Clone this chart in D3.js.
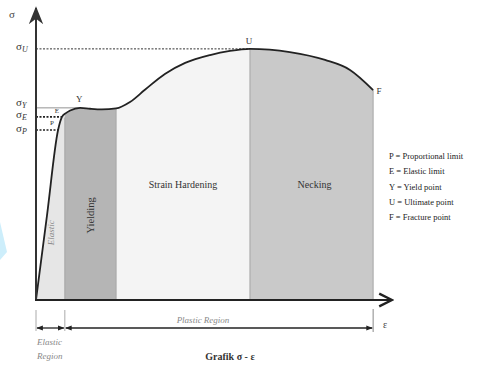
<!DOCTYPE html>
<html><head><meta charset="utf-8">
<script src="https://cdn.jsdelivr.net/npm/d3@7"></script>
<style>html,body{margin:0;padding:0;background:#fff}svg{display:block}</style>
</head><body>
<script>
// ---- data ----
const strain = [0, 0.31, 0.62, 0.73, 0.84, 0.96, 1.24, 1.52, 1.85, 2.25, 2.64, 3.06, 3.62, 4.19, 4.89, 5.45, 6.01, 7.13, 8.12, 8.82, 9.47];
const stress = [0, 29.1, 58.2, 62.7, 64.0, 64.9, 65.8, 65.5, 65.3, 65.6, 67.8, 72.0, 77.4, 81.2, 83.9, 85.3, 86.0, 84.9, 82.2, 78.8, 71.9];
const regionNames = ["Elastic", "Yielding", "Strain Hardening", "Necking"];
const regionBounds = [0, 0.81, 2.25, 6.01, 9.47];
const pointNames = ["P", "E", "Y", "U", "F"];
const pointIndex = [2, 3, 6, 16, 20];
const legendLines = ["P = Proportional limit", "E = Elastic limit", "Y = Yield point", "U = Ultimate point", "F = Fracture point"];

const W = 480, H = 365;
const svg = d3.select("body").append("svg").attr("width", W).attr("height", H);
const x = d3.scaleLinear().domain([0, 10]).range([36, 392]);
const y = d3.scaleLinear().domain([0, 100]).range([300, 8]);
const serif = "'Liberation Serif','DejaVu Serif',serif";

const pts = strain.map((s, i) => [s, stress[i]]);
const area = d3.area().x(d => x(d[0])).y0(y(0)).y1(d => y(d[1])).curve(d3.curveMonotoneX);
const line = d3.line().x(d => x(d[0])).y(d => y(d[1])).curve(d3.curveMonotoneX);

// decorative triangle on the left edge
svg.append("path").attr("d", "M0,222 L7,252 L0,260 Z").attr("fill", "#cdeefb");

const defs = svg.append("defs");
const fills = ["#e6e6e6", "#b5b5b5", "#f4f4f4", "#c9c9c9"];
regionNames.forEach((n, i) => {
  defs.append("clipPath").attr("id", "clip" + i).append("rect")
    .attr("x", x(regionBounds[i])).attr("y", 0)
    .attr("width", x(regionBounds[i + 1]) - x(regionBounds[i])).attr("height", y(0));
  svg.append("path").datum(pts).attr("d", area).attr("fill", fills[i]).attr("clip-path", `url(#clip${i})`);
});
// region edges
regionBounds.slice(1).forEach((b, i) => {
  const idx = strain.findIndex(s => Math.abs(s - b) < 1e-9);
  svg.append("line").attr("x1", x(b)).attr("x2", x(b)).attr("y1", y(0))
    .attr("y2", i === 0 ? y(62.5) : y(idx >= 0 ? stress[idx] : 64))
    .attr("stroke", "#a5a5a5").attr("stroke-width", 1);
});

// reference lines
const U = pts[pointIndex[3]], Yp = pts[pointIndex[2]], E = pts[pointIndex[1]], P = pts[pointIndex[0]];
svg.append("line").attr("x1", x(0)).attr("x2", x(U[0])).attr("y1", y(U[1])).attr("y2", y(U[1]))
  .attr("stroke", "#333").attr("stroke-width", 1).attr("stroke-dasharray", "2,1.5");
svg.append("line").attr("x1", x(0)).attr("x2", x(Yp[0])).attr("y1", y(Yp[1])).attr("y2", y(Yp[1]))
  .attr("stroke", "#777").attr("stroke-width", 0.8);
svg.append("line").attr("x1", x(0)).attr("x2", x(E[0])).attr("y1", y(E[1])).attr("y2", y(E[1]))
  .attr("stroke", "#222").attr("stroke-width", 1.6).attr("stroke-dasharray", "2,1.5");
svg.append("line").attr("x1", x(0)).attr("x2", x(P[0])).attr("y1", y(P[1])).attr("y2", y(P[1]))
  .attr("stroke", "#222").attr("stroke-width", 1.6).attr("stroke-dasharray", "2,1.5");

// curve
svg.append("path").datum(pts).attr("d", line).attr("fill", "none").attr("stroke", "#222").attr("stroke-width", 1.8);

// axes with arrows
defs.append("marker").attr("id", "ah").attr("viewBox", "0 0 10 10").attr("refX", 9).attr("refY", 5)
  .attr("markerWidth", 8).attr("markerHeight", 8).attr("orient", "auto")
  .append("path").attr("d", "M1,1 L9,5 L1,9").attr("fill", "none").attr("stroke", "#222").attr("stroke-width", 1.5);
defs.append("marker").attr("id", "ahFill").attr("viewBox", "0 0 10 10").attr("refX", 9).attr("refY", 5)
  .attr("markerWidth", 9).attr("markerHeight", 12).attr("orient", "auto")
  .append("path").attr("d", "M0,1 L10,5 L0,9 L3,5 Z").attr("fill", "#333");
defs.append("marker").attr("id", "sm").attr("viewBox", "0 0 10 10").attr("refX", 9).attr("refY", 5)
  .attr("markerWidth", 5).attr("markerHeight", 5).attr("orient", "auto-start-reverse")
  .append("path").attr("d", "M0,1 L10,5 L0,9 Z").attr("fill", "#222");

svg.append("line").attr("x1", x(0)).attr("x2", x(0)).attr("y1", y(0) + 1).attr("y2", y(100))
  .attr("stroke", "#333").attr("stroke-width", 2).attr("marker-end", "url(#ahFill)");
svg.append("line").attr("x1", x(0) - 1).attr("x2", x(10)).attr("y1", y(0)).attr("y2", y(0))
  .attr("stroke", "#222").attr("stroke-width", 2).attr("marker-end", "url(#ah)");

// sigma labels
function sigmaLabel(sub, yy) {
  const t = svg.append("text").attr("x", 16).attr("y", yy).attr("font-family", serif).attr("font-size", 11).attr("fill", "#333");
  t.append("tspan").text("σ");
  t.append("tspan").attr("font-size", 8).attr("dy", 2).attr("font-style", "italic").text(sub);
}
svg.append("text").attr("x", 9).attr("y", 18).attr("font-family", serif).attr("font-size", 11).attr("fill", "#444").text("σ");
sigmaLabel("U", y(U[1]) + 1);
sigmaLabel("Y", y(Yp[1]) - 2);
sigmaLabel("E", y(E[1]) + 1);
sigmaLabel("P", y(P[1]) + 2);

// point labels
const lblOff = [[-6, -5], [-5, -4], [-1, -6], [-1, -5], [6, 4]];
pointIndex.forEach((pi, i) => {
  const p = pts[pi];
  svg.append("text").attr("x", x(p[0]) + lblOff[i][0]).attr("y", y(p[1]) + lblOff[i][1])
    .attr("font-family", serif).attr("font-size", i < 2 ? 7 : 9).attr("fill", "#333").attr("text-anchor", "middle")
    .text(pointNames[i]);
});

// region labels
svg.append("text").attr("transform", `translate(${x(0.5)},${y(23)}) rotate(-90)`).attr("text-anchor", "middle")
  .attr("font-family", serif).attr("font-style", "italic").attr("font-size", 9).attr("fill", "#8a8a8a").text(regionNames[0]);
svg.append("text").attr("transform", `translate(${(x(regionBounds[1]) + x(regionBounds[2])) / 2 + 4},${y(29)}) rotate(-90)`).attr("text-anchor", "middle")
  .attr("font-family", serif).attr("font-size", 10.5).attr("fill", "#333").text(regionNames[1]);
svg.append("text").attr("x", (x(regionBounds[2]) + x(regionBounds[3])) / 2).attr("y", 188).attr("text-anchor", "middle")
  .attr("font-family", serif).attr("font-size", 10).attr("fill", "#333").text(regionNames[2]);
svg.append("text").attr("x", (x(regionBounds[3]) + x(regionBounds[4])) / 2 + 3).attr("y", 188).attr("text-anchor", "middle")
  .attr("font-family", serif).attr("font-size", 10).attr("fill", "#333").text(regionNames[3]);

// legend
legendLines.forEach((t, i) => {
  svg.append("text").attr("x", 389).attr("y", 159 + i * 15.3).attr("font-family", serif).attr("font-size", 8.5)
    .attr("fill", "#222").text(t);
});

// bottom annotations
[0, regionBounds[1]].forEach(b => {
  svg.append("line").attr("x1", x(b)).attr("x2", x(b)).attr("y1", 310).attr("y2", 331).attr("stroke", "#aaa").attr("stroke-width", 1);
});
svg.append("line").attr("x1", x(regionBounds[4])).attr("x2", x(regionBounds[4])).attr("y1", 309).attr("y2", 332).attr("stroke", "#888").attr("stroke-width", 1);
svg.append("line").attr("x1", x(0) + 1).attr("x2", x(regionBounds[1]) - 1).attr("y1", 328).attr("y2", 328)
  .attr("stroke", "#222").attr("stroke-width", 1.3).attr("marker-start", "url(#sm)").attr("marker-end", "url(#sm)");
svg.append("line").attr("x1", x(regionBounds[1]) + 1).attr("x2", x(regionBounds[4]) - 1).attr("y1", 328).attr("y2", 328)
  .attr("stroke", "#222").attr("stroke-width", 1.3).attr("marker-start", "url(#sm)").attr("marker-end", "url(#sm)");
svg.append("text").attr("x", 203).attr("y", 323).attr("text-anchor", "middle").attr("font-family", serif)
  .attr("font-style", "italic").attr("font-size", 9).attr("fill", "#888").text("Plastic Region");
svg.append("text").attr("x", 37).attr("y", 345).attr("font-family", serif)
  .attr("font-style", "italic").attr("font-size", 9).attr("fill", "#888").text("Elastic");
svg.append("text").attr("x", 37).attr("y", 359).attr("font-family", serif)
  .attr("font-style", "italic").attr("font-size", 9).attr("fill", "#888").text("Region");
svg.append("text").attr("x", 383).attr("y", 328).attr("font-family", serif).attr("font-size", 10).attr("fill", "#444").text("ε");
svg.append("text").attr("x", 230).attr("y", 360).attr("text-anchor", "middle").attr("font-family", serif)
  .attr("font-weight", "bold").attr("font-size", 10).attr("fill", "#333").text("Grafik σ - ε");
</script>
</body></html>
